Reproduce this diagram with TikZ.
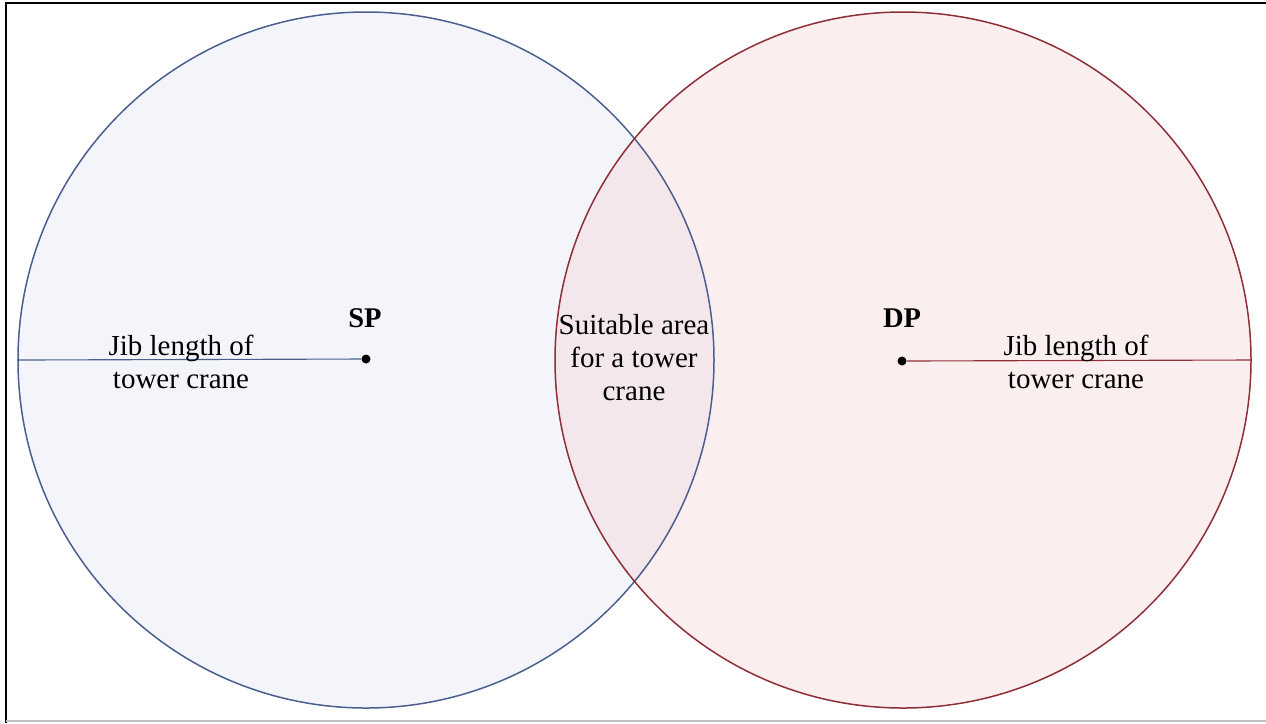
\documentclass[tikz,border=0pt]{standalone}
\usepackage{fontspec}
\setmainfont{Liberation Serif}
\usepackage{xcolor}
\usepackage{tikz}
\usetikzlibrary{positioning}
\definecolor{sblue}{HTML}{4A5F8E}
\definecolor{sfill}{RGB}{208,214,235}
\definecolor{dred}{HTML}{8E2F38}
\definecolor{dfill}{RGB}{240,185,190}
\tikzset{
  reach/.style={circle, inner sep=0pt, minimum size=278.4pt, line width=0.6pt,
                fill opacity=0.24},
  pivot/.style={circle, fill=black, inner sep=0pt, minimum size=3.6pt},
  plbl/.style={font=\fontsize{11.4}{13.2}\selectfont\bfseries},
  tlbl/.style={font=\fontsize{11.6}{13.2}\selectfont, align=center, inner sep=0pt},
  jib/.style={line width=0.45pt},
}

\begin{document}
\begin{tikzpicture}[x=0.4pt,y=-0.4pt]
  \useasboundingbox (0,0) rectangle (1266,723);

  % frame
  \draw[black, line width=0.8pt] (6,723) -- (6,3) -- (1266,3);
  \draw[black!25, line width=0.6pt] (6,721) -- (1266,721);

  % reach circles
  \node[reach, fill=sfill] (sreach) at (366,360) {};
  \node[reach, fill=dfill] (dreach) at (903,360) {};
  \draw[sblue, line width=0.6pt] (sreach.center) circle[radius=348];
  \draw[dred, line width=0.6pt] (dreach.center) circle[radius=348];

  % crane positions
  \node[pivot] (sp) at (366,359) {};
  \node[pivot] (dp) at (902,361) {};
  \node[plbl] at (365,318) {SP};
  \node[plbl] at (902,318) {DP};

  % jib lengths
  \draw[jib, sblue] (sreach.west) -- (sp);
  \draw[jib, dred] (dp) -- (dreach.east);
  \node[tlbl] (sjib) at (181,362) {Jib length of\\tower crane};
  \node[tlbl] (djib) at (1076,362) {Jib length of\\tower crane};

  % overlap
  \node[tlbl] (area) at (634,358) {Suitable area\\for a tower\\crane};

\end{tikzpicture}
\end{document}
